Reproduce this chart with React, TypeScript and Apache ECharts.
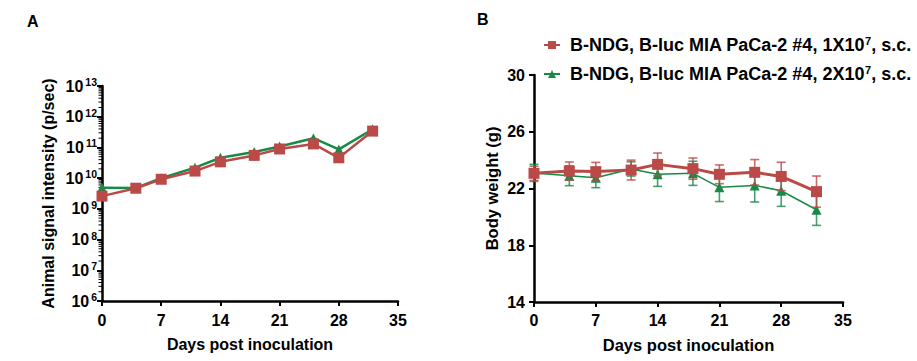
import React, { useEffect, useRef } from "react";
import * as echarts from "echarts";

const days = [0, 4, 7, 11, 14, 18, 21, 25, 28, 32];
const signal1 = [2.6e9, 4.7e9, 9.2e9, 1.7e10, 3.4e10, 5.5e10, 8.9e10, 1.3e11, 4.6e10, 3.4e11];
const signal2 = [4.9e9, 4.8e9, 1.0e10, 2.2e10, 4.6e10, 7.1e10, 1.07e11, 2.0e11, 8.6e10, 3.9e11];
const weight1 = [23.07, 23.23, 23.19, 23.3, 23.7, 23.4, 23.0, 23.14, 22.85, 21.78];
const weight1Err = [0.5, 0.64, 0.65, 0.7, 0.8, 0.75, 0.66, 0.9, 1.0, 1.1];
const weight2 = [23.1, 22.9, 22.76, 23.38, 23.0, 23.07, 22.08, 22.22, 21.84, 20.5];
const weight2Err = [0.6, 0.7, 0.7, 0.5, 0.85, 0.85, 1.0, 1.17, 1.1, 1.1];
const seriesNames = [
  "B-NDG, B-luc MIA PaCa-2 #4, 1X10^7, s.c.",
  "B-NDG, B-luc MIA PaCa-2 #4, 2X10^7, s.c.",
];
const xTicks = [0, 7, 14, 21, 28, 35];
const logDecades = [6, 7, 8, 9, 10, 11, 12];
const logMinorMultipliers = [2, 3, 4, 5, 6, 7, 8, 9];

const RED = "#B94A48";
const GREEN = "#188A47";
const FONT = "'Liberation Sans', Arial, sans-serif";

function errSeries(vals: number[], errs: number[], color: string, name: string, z: number) {
  return {
    type: "custom",
    name,
    xAxisIndex: 1,
    yAxisIndex: 1,
    z,
    silent: true,
    data: days.map((d, i) => [d, vals[i] - errs[i], vals[i] + errs[i]]),
    renderItem: (params: any, api: any) => {
      const x = api.value(0);
      const top = api.coord([x, api.value(2)]);
      const bot = api.coord([x, api.value(1)]);
      const w = 4.5;
      const style = { stroke: color, lineWidth: 1.6, opacity: 0.8 };
      return {
        type: "group",
        children: [
          { type: "line", shape: { x1: top[0], y1: top[1], x2: bot[0], y2: bot[1] }, style },
          { type: "line", shape: { x1: top[0] - w, y1: top[1], x2: top[0] + w, y2: top[1] }, style },
          { type: "line", shape: { x1: bot[0] - w, y1: bot[1], x2: bot[0] + w, y2: bot[1] }, style },
        ],
      };
    },
  };
}

export default function App() {
  const ref = useRef<HTMLDivElement>(null);
  useEffect(() => {
    if (!ref.current) return;
    const chart = echarts.init(ref.current, null, { renderer: "svg" });
    const axisLine = { show: true, lineStyle: { color: "#000", width: 2.5 } };
    const axisTick = { show: true, length: 5, inside: false, lineStyle: { color: "#000", width: 2 } };
    const labelStyle = { color: "#000", fontWeight: "bold", fontSize: 16, fontFamily: FONT };
    const nameStyle = (size: number) => ({ color: "#000", fontWeight: "bold", fontSize: size, fontFamily: FONT });
    const xAxisBase = (gridIndex: number, gap: number, size: number, margin: number) => ({
      type: "value",
      gridIndex,
      min: 0,
      max: 35,
      interval: 7,
      name: "Days post inoculation",
      nameLocation: "middle",
      nameGap: gap,
      nameTextStyle: nameStyle(size),
      axisLine,
      axisTick,
      axisLabel: { ...labelStyle, margin, formatter: (v: number) => (xTicks.includes(v) ? String(v) : "") },
      splitLine: { show: false },
    });
    const minorVals: number[] = [];
    logDecades.forEach((d) => logMinorMultipliers.forEach((m) => minorVals.push(m * Math.pow(10, d))));
    const option: any = {
      animation: false,
      backgroundColor: "#fff",
      textStyle: { fontFamily: FONT },
      title: [
        { text: "A", left: 22, top: 8, textStyle: { fontSize: 16, fontWeight: "bold", fontFamily: FONT, color: "#000" } },
        { text: "B", left: 472, top: 6, textStyle: { fontSize: 16, fontWeight: "bold", fontFamily: FONT, color: "#000" } },
      ],
      legend: {
        data: seriesNames,
        orient: "vertical",
        left: 538,
        top: 30,
        itemWidth: 16,
        itemHeight: 10,
        itemGap: 10,
        selectedMode: false,
        textStyle: {
          color: "#000",
          fontWeight: "bold",
          fontSize: 18,
          fontFamily: FONT,
          padding: [0, 0, 0, 5],
          rich: {
            t: { color: "#000", fontWeight: "bold", fontSize: 18, fontFamily: FONT },
            s: { color: "#000", fontWeight: "bold", fontSize: 11, fontFamily: FONT, verticalAlign: "top", padding: [0, 0, 9, 0] },
          },
        },
        formatter: (name: string) => {
          const [a, b] = name.split("^");
          const exp = b.charAt(0);
          const rest = b.slice(1);
          return `{t|${a}}{s|${exp}}{t|${rest}}`;
        },
      },
      grid: [
        { left: 102, top: 86, width: 296, height: 215 },
        { left: 534, top: 75, width: 309, height: 227 },
      ],
      xAxis: [xAxisBase(0, 35, 16, 11), xAxisBase(1, 34, 16.5, 10)],
      yAxis: [
        {
          type: "log",
          gridIndex: 0,
          logBase: 10,
          min: 1e6,
          max: 1e13,
          name: "Animal signal intensity (p/sec)",
          nameLocation: "middle",
          nameGap: 46,
          nameTextStyle: nameStyle(16),
          axisLine,
          axisTick: { ...axisTick, length: 5 },
          minorTick: { show: false },
          splitLine: { show: false },
          axisLabel: {
            margin: 5,
            formatter: (v: number) => `{b|10}{s|${Math.round(Math.log10(v))}}`,
            rich: {
              b: { color: "#000", fontWeight: "bold", fontSize: 16, fontFamily: FONT, padding: [0, 2, 0, 0] },
              s: { color: "#000", fontWeight: "bold", fontSize: 10.5, fontFamily: FONT, verticalAlign: "top", padding: [0, 0, 8, 0] },
            },
          },
        },
        {
          type: "value",
          gridIndex: 1,
          min: 14,
          max: 30,
          interval: 4,
          name: "Body weight (g)",
          nameLocation: "middle",
          nameGap: 34,
          nameTextStyle: nameStyle(16.5),
          axisLine,
          axisTick,
          splitLine: { show: false },
          axisLabel: { ...labelStyle, margin: 9 },
        },
      ],
      series: [
        {
          type: "custom",
          name: "minor",
          xAxisIndex: 0,
          yAxisIndex: 0,
          silent: true,
          clip: false,
          z: 1,
          data: minorVals.map((v) => [0, v]),
          renderItem: (params: any, api: any) => {
            const p = api.coord([0, api.value(1)]);
            return {
              type: "line",
              shape: { x1: p[0] - 3.5, y1: p[1], x2: p[0], y2: p[1] },
              style: { stroke: "#000", lineWidth: 1 },
            };
          },
        },
        {
          type: "line",
          name: "A2",
          xAxisIndex: 0,
          yAxisIndex: 0,
          z: 2,
          data: days.map((d, i) => [d, signal2[i]]),
          symbol: "triangle",
          symbolSize: 10,
          itemStyle: { color: GREEN },
          lineStyle: { color: GREEN, width: 2.5 },
        },
        {
          type: "line",
          name: "A1",
          xAxisIndex: 0,
          yAxisIndex: 0,
          z: 3,
          data: days.map((d, i) => [d, signal1[i]]),
          symbol: "rect",
          symbolSize: 11,
          itemStyle: { color: RED },
          lineStyle: { color: RED, width: 2.5 },
        },
        errSeries(weight2, weight2Err, GREEN, "e2", 2),
        {
          type: "line",
          name: seriesNames[1],
          xAxisIndex: 1,
          yAxisIndex: 1,
          z: 3,
          data: days.map((d, i) => [d, weight2[i]]),
          symbol: "triangle",
          symbolSize: 10,
          itemStyle: { color: GREEN },
          lineStyle: { color: GREEN, width: 1.5 },
        },
        errSeries(weight1, weight1Err, RED, "e1", 4),
        {
          type: "line",
          name: seriesNames[0],
          xAxisIndex: 1,
          yAxisIndex: 1,
          z: 5,
          data: days.map((d, i) => [d, weight1[i]]),
          symbol: "rect",
          symbolSize: 11,
          itemStyle: { color: RED },
          lineStyle: { color: RED, width: 3 },
        },
      ],
    };
    chart.setOption(option);
    return () => chart.dispose();
  }, []);
  return <div ref={ref} style={{ position: "absolute", left: 0, top: 0, width: 917, height: 361 }} />;
}
